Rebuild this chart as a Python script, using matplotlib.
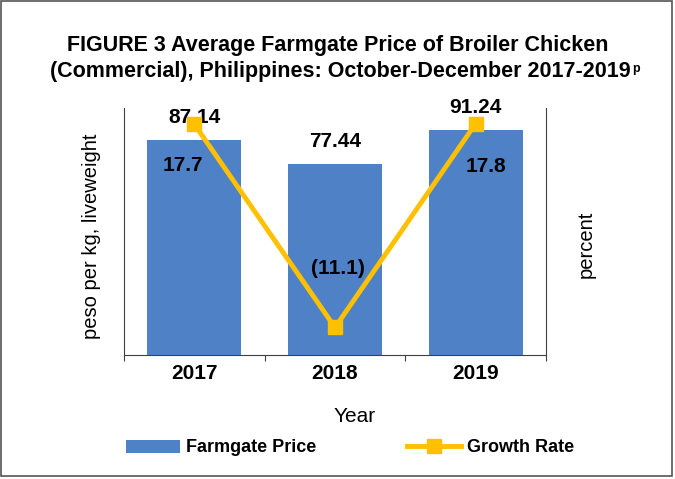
import matplotlib
matplotlib.use('Agg')
import matplotlib.pyplot as plt
from matplotlib.patches import Patch, Rectangle
from matplotlib.lines import Line2D

years = ['2017', '2018', '2019']
farmgate_price = [87.14, 77.44, 91.24]
growth_rate = [17.7, -11.1, 17.8]
growth_labels = ['17.7', '(11.1)', '17.8']

bar_color = '#4F81C6'
line_color = '#FFC000'

plt.rcParams['font.family'] = ['Liberation Sans', 'DejaVu Sans']

fig = plt.figure(figsize=(6.75, 4.79), dpi=100)
ax = fig.add_axes([0.1837, 0.2589, 0.6252, 0.5156])
x = list(range(len(years)))

ax.bar(x, farmgate_price, width=0.67, color=bar_color, zorder=2)
ax.set_xlim(-0.5, 2.5)
ax.set_ylim(0, 100)
ax.set_yticks([])
for xi, v in zip(x, farmgate_price):
    ax.annotate(f'{v:.2f}', xy=(xi, v), xytext=(0, 22), textcoords='offset pixels',
                ha='center', va='center', fontsize=15, fontweight='bold')

ax.set_xticks(x)
ax.set_xticklabels(years, fontsize=15, fontweight='bold')
ax.tick_params(axis='x', which='major', length=0, pad=6.5)
ax.set_xticks([-0.5, 0.5, 1.5, 2.5], minor=True)
ax.tick_params(axis='x', which='minor', length=4.5, width=0.8, color='#404040', direction='out')
ax.spines['top'].set_visible(False)
for s in ['left', 'right', 'bottom']:
    ax.spines[s].set_color('#404040')
    ax.spines[s].set_linewidth(0.8)

ax2 = ax.twinx()
ax2.plot(x, growth_rate, color=line_color, lw=3.5, marker='s', markersize=9.5,
         markerfacecolor=line_color, markeredgecolor=line_color, zorder=3)
ax2.set_ylim(-15, 20)
ax2.set_yticks([])
for s in ax2.spines.values():
    s.set_visible(False)
offsets = [(-11, -41), (3, 59), (10, -43)]
for xi, v, lab, off in zip(x, growth_rate, growth_labels, offsets):
    ax2.annotate(lab, xy=(xi, v), xytext=off, textcoords='offset pixels',
                 ha='center', va='center', fontsize=15, fontweight='bold')

ax.set_ylabel('peso per kg, liveweight', fontsize=14.5)
ax.yaxis.set_label_coords(-0.055, 0.48)
ax2.set_ylabel('percent', fontsize=14.5)
ax2.yaxis.set_label_coords(1.073, 0.45)
fig.text(355 / 675, 1 - 417 / 479, 'Year', ha='center', va='center', fontsize=15)

# title, with small superscript p
fig.text(338 / 675, 1 - 45 / 479, 'FIGURE 3 Average Farmgate Price of Broiler Chicken',
         ha='center', va='center', fontsize=15.5, fontweight='bold')
fig.text(631 / 675, 1 - 72 / 479, '(Commercial), Philippines: October-December 2017-2019',
         ha='right', va='center', fontsize=15.5, fontweight='bold')
fig.text(632 / 675, 1 - 69 / 479, 'p', ha='left', va='center', fontsize=9, fontweight='bold')

handles = [Patch(facecolor=bar_color, label='Farmgate Price'),
           Line2D([], [], color=line_color, lw=3.5, marker='s', markersize=9.5, label='Growth Rate')]
fig.legend(handles=handles, loc='center', bbox_to_anchor=(350 / 675, 1 - 448 / 479), ncol=2,
           frameon=False, prop={'size': 13, 'weight': 'bold'}, handlelength=3.0,
           handleheight=0.7, handletextpad=0.35, columnspacing=5.0)

fig.patches.append(Rectangle((0.0015, 0.006), 0.994, 0.992, transform=fig.transFigure,
                             fill=False, edgecolor='#555555', lw=1.2))

fig.savefig('out.png', dpi=100)
